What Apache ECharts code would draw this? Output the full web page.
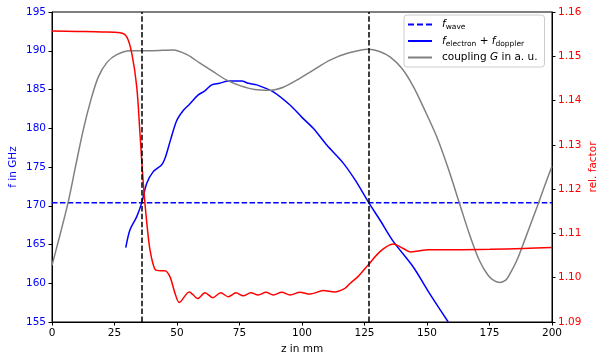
<!DOCTYPE html>
<html>
<head>
<meta charset="utf-8">
<script src="https://cdn.jsdelivr.net/npm/echarts@6/dist/echarts.min.js"></script>
<style>
  html, body { margin: 0; padding: 0; background: #fff; }
  #chart { width: 598px; height: 358px; }
</style>
</head>
<body>
<div id="chart"></div>
<script>
// coupling G (a.u., drawn on the GHz axis)
const gZ   = [0, 3, 6.5, 9.5, 12.5, 15.5, 18.5, 22, 25.9, 31.2, 40, 48.5, 54, 59.2, 64.5, 69.9, 75.2, 81, 87.2, 92.5, 97.9, 104.5, 111.2, 118.5, 126.5, 131, 135.2, 140, 144.5, 149, 153.9, 158.5, 162.9, 167, 171, 174.5, 177, 179.2, 181.5, 183, 186, 189, 192, 195, 198, 200]
const gVal = [162.3, 166, 170.5, 175.2, 179.8, 183.6, 186.6, 188.5, 189.5, 190, 190, 190.1, 189.5, 188.4, 187.3, 186.2, 185.5, 185, 184.9, 185.3, 186.2, 187.5, 188.8, 189.7, 190.2, 189.9, 189.2, 187.7, 185.4, 182.4, 178.9, 174.8, 170.4, 166.3, 162.9, 161, 160.3, 160.1, 160.4, 161.1, 163, 165.5, 168.1, 170.7, 173.4, 175.1]

// f_electron + f_doppler (GHz)
const eZ   = [29.5, 31.2, 33.9, 35.9, 37.9, 40.5, 43.9, 45.5, 47.5, 49.9, 52.5, 55, 58.5, 61, 63.9, 67, 70.5, 75.9, 78.5, 81.9, 88.5, 95.2, 100, 104.5, 110, 116.5, 121.5, 126.5, 131.5, 136.5, 144.5, 151, 158.5]
const eVal = [164.6, 166.9, 168.6, 170.4, 172.9, 174.4, 175.3, 176.4, 178.6, 181.0, 182.3, 183.1, 184.3, 184.8, 185.6, 185.8, 186.1, 186.1, 185.8, 185.6, 184.7, 183.0, 181.4, 180.0, 177.8, 175.5, 173.2, 170.5, 168, 165.4, 162.1, 158.7, 155]

// f_wave (GHz)
const wZ   = [0, 200]
const wVal = [170.4, 170.4]

// rel. factor (right axis)
const rZ   = [0, 10, 20, 27.2, 29.9, 31.9, 33.9, 35.2, 36.5, 37.9, 39.2, 41.2, 43.5, 45.2, 47.2, 49.2, 50.9, 54.9, 58.3, 61.2, 64.3, 67.5, 70.5, 73.6, 76.5, 79.5, 82.5, 85.6, 88.5, 91.9, 95.2, 99.2, 103.2, 108.5, 113, 117.2, 119.2, 122.5, 126.5, 131.2, 136.5, 140.5, 143.5, 147, 150.5, 161.9, 175.2, 188.5, 200]
const rVal = [1.1557, 1.1556, 1.1555, 1.1553, 1.1544, 1.1507, 1.1431, 1.1325, 1.1214, 1.1125, 1.1063, 1.1019, 1.1016, 1.1016, 1.1002, 1.0965, 1.0944, 1.0968, 1.0953, 1.0966, 1.0955, 1.0966, 1.0957, 1.0966, 1.0959, 1.0966, 1.0961, 1.0967, 1.0961, 1.0967, 1.0961, 1.0967, 1.0963, 1.0971, 1.0968, 1.0976, 1.0987, 1.1003, 1.1029, 1.1059, 1.1076, 1.1066, 1.1058, 1.1061, 1.1063, 1.1063, 1.1064, 1.1066, 1.1068]

// dashed vertical markers (mm)
const markZ = [35.8, 126.8]

const xTicks = { min: 0, max: 200, interval: 25 }
const fTicks = { min: 155, max: 195, interval: 5 }
const rTicks = { min: 1.09, max: 1.16, interval: 0.01 }

const pairs = (xs, ys) => xs.map((x, i) => [x, ys[i]])
const FONT = 'DejaVu Sans'
const DASHES = 'path://M0,0h6v2h-6zM9,0h6v2h-6zM18,0h6v2h-6z'
const SOLID  = 'path://M0,0h24v2h-24z'

const chart = echarts.init(document.getElementById('chart'), null, { renderer: 'canvas' })
chart.setOption({
  animation: false,
  textStyle: { fontFamily: FONT },
  grid: { left: 52, right: 46, top: 12, bottom: 36, outerBoundsMode: 'none', containLabel: false,
          show: true, borderColor: '#000', borderWidth: 1 },
  legend: {
    orient: 'vertical', left: 404, top: 15,
    itemWidth: 24, itemHeight: 2, itemGap: 4,
    padding: [4, 7, 4, 4],
    backgroundColor: '#fff', borderColor: '#cccccc', borderWidth: 1, borderRadius: 3,
    data: [{ name: 'fwave', icon: DASHES }, { name: 'fe', icon: SOLID }, { name: 'G', icon: SOLID }],
    formatter: n => n === 'fwave' ? '{i|f}{s|wave}'
      : n === 'fe' ? '{i|f}{s|electron}{t| + }{i|f}{s|doppler}'
      : '{t|coupling }{i|G}{t| in a. u.}',
    textStyle: {
      color: '#000', fontFamily: FONT, padding: [0, 0, 0, 5],
      rich: {
        t: { fontSize: 10.5, fontFamily: FONT, lineHeight: 14, verticalAlign: 'middle' },
        i: { fontSize: 10.5, fontFamily: FONT, fontStyle: 'italic', lineHeight: 14, verticalAlign: 'middle' },
        s: { fontSize: 7.5, fontFamily: FONT, lineHeight: 14, verticalAlign: 'bottom', padding: [4, 0, 0, 0] }
      }
    }
  },
  xAxis: {
    type: 'value', ...xTicks,
    name: 'z in mm', nameLocation: 'middle', nameGap: 20,
    nameTextStyle: { color: '#000', fontSize: 10.5, fontFamily: FONT },
    axisLine: { onZero: false, lineStyle: { color: '#000', width: 1 } },
    axisTick: { inside: false, length: 3.5, lineStyle: { color: '#000' } },
    axisLabel: { color: '#000', fontSize: 10.5, margin: 6, fontFamily: FONT },
    splitLine: { show: false }
  },
  yAxis: [
    {
      type: 'value', ...fTicks, position: 'left',
      name: 'f in GHz', nameLocation: 'middle', nameGap: 33, nameRotate: 90, nameMoveOverlap: false,
      nameTextStyle: { color: '#0000ff', fontSize: 10.5, fontFamily: FONT },
      axisLine: { show: true, onZero: false, lineStyle: { color: '#000' } },
      axisTick: { show: true, length: 3.5, lineStyle: { color: '#000' } },
      axisLabel: { color: '#0000ff', fontSize: 10.5, margin: 6, fontFamily: FONT },
      splitLine: { show: false }
    },
    {
      type: 'value', ...rTicks, position: 'right',
      name: 'rel. factor', nameLocation: 'middle', nameGap: 36, nameRotate: 90, nameMoveOverlap: false,
      nameTextStyle: { color: '#ff0000', fontSize: 10.5, fontFamily: FONT },
      axisLine: { show: true, onZero: false, lineStyle: { color: '#000' } },
      axisTick: { show: true, length: 3.5, lineStyle: { color: '#000' } },
      axisLabel: { color: '#ff0000', fontSize: 10.5, margin: 6, fontFamily: FONT, formatter: v => v.toFixed(2) },
      splitLine: { show: false }
    }
  ],
  series: [
    {
      name: 'fwave', type: 'line', data: pairs(wZ, wVal), symbol: 'none',
      lineStyle: { color: '#0000ff', width: 1.5, type: [5.5, 2.4] }, itemStyle: { color: '#0000ff' },
      markLine: {
        silent: true, symbol: 'none', label: { show: false },
        lineStyle: { color: '#000', width: 1.5, type: [5.5, 2.4] },
        data: markZ.map(z => ({ xAxis: z }))
      }
    },
    {
      name: 'fe', type: 'line', data: pairs(eZ, eVal), symbol: 'none', smooth: 0.3,
      lineStyle: { color: '#0000ff', width: 1.5 }, itemStyle: { color: '#0000ff' }
    },
    {
      name: 'G', type: 'line', data: pairs(gZ, gVal), symbol: 'none', smooth: 0.3,
      lineStyle: { color: '#808080', width: 1.5 }, itemStyle: { color: '#808080' }
    },
    {
      name: 'rel', type: 'line', yAxisIndex: 1, data: pairs(rZ, rVal), symbol: 'none', smooth: 0.3,
      lineStyle: { color: '#ff0000', width: 1.5 }, itemStyle: { color: '#ff0000' }
    }
  ]
})
</script>
</body>
</html>
